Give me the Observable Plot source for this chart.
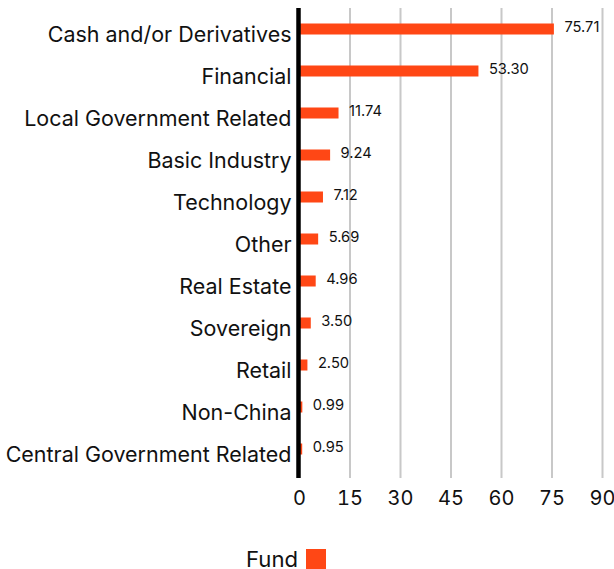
<!DOCTYPE html>
<html><head><meta charset="utf-8">
<script src="https://cdn.jsdelivr.net/npm/d3@7"></script>
<script src="https://cdn.jsdelivr.net/npm/@observablehq/plot@0.6"></script>
<style>
body{margin:0;background:#fff;font-family:Inter,sans-serif;}
#legend{position:absolute;left:246px;top:546px;display:flex;align-items:center;color:#111;}
#legend span.sw{display:inline-block;width:20px;height:20px;background:#ff4715;margin-left:8px;}
</style></head>
<body>
<div id="chart"></div>
<div id="legend"><span id="fundlbl">Fund</span><span class="sw"></span></div>
<script>
const categories = ["Cash and/or Derivatives","Financial","Local Government Related","Basic Industry","Technology","Other","Real Estate","Sovereign","Retail","Non-China","Central Government Related"];
const values = [75.71,53.30,11.74,9.24,7.12,5.69,4.96,3.50,2.50,0.99,0.95];
const xTicks = [0,15,30,45,60,75,90];
const data = categories.map((c,i)=>({category:c,value:values[i]}));
const color = "#ff4715";
const FONT = "Inter";
const ctx = document.createElement("canvas").getContext("2d");
function fit(text, target){ ctx.font = `100px ${FONT}`; return 100*target/ctx.measureText(text).width; }
const yFont = fit("Cash and/or Derivatives", 244);
const vFont = fit("75.71", 35);
document.getElementById("fundlbl").style.fontSize = fit("Fund", 52) + "px";
const chart = Plot.plot({
  width:614, height:525,
  marginTop:8, marginBottom:47, marginLeft:299, marginRight:12,
  style:{fontFamily:FONT+", sans-serif", color:"#111", background:"#fff"},
  x:{domain:[0,90], ticks:xTicks},
  y:{domain:categories, range:[4.75,472.25], padding:0},
  marks:[
    Plot.ruleX(xTicks.filter(d=>d>0),{stroke:"#c8c8c8",strokeWidth:2}),
    Plot.barX(data,{y:"category",x:"value",fill:color,insetTop:15.5,insetBottom:15.5}),
    Plot.text(data,{y:"category",x:"value",text:d=>d.value.toFixed(2),textAnchor:"start",dx:10,dy:-2,fontSize:vFont,fill:"#111"}),
    Plot.ruleX([0],{stroke:"#000",strokeWidth:4.5,dx:-1}),
    Plot.axisX({ticks:xTicks,tickSize:0,tickPadding:12,fontSize:20,label:null}),
    Plot.axisY({tickSize:0,tickPadding:8,dy:6,fontSize:yFont,label:null})
  ]
});
document.getElementById("chart").appendChild(chart);
</script>
</body></html>
